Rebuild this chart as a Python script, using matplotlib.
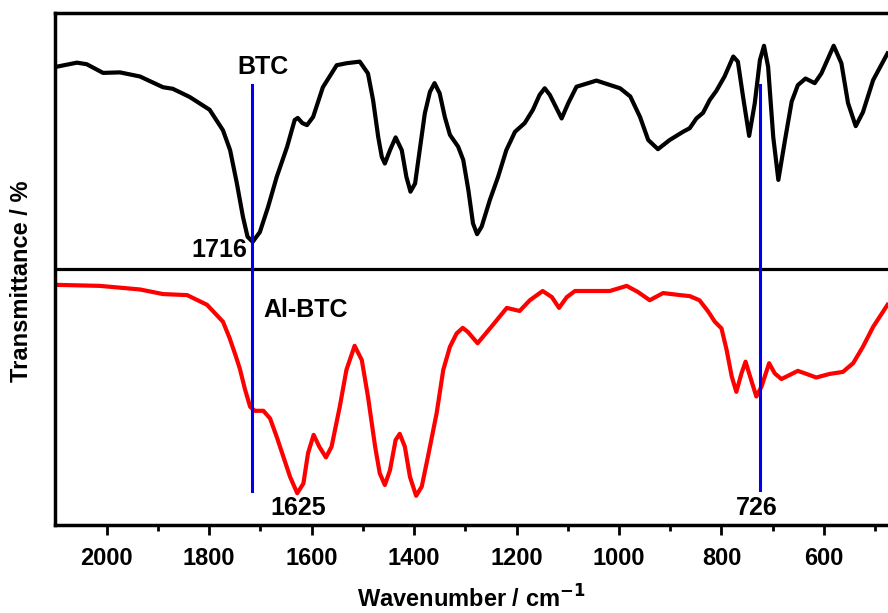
import matplotlib.pyplot as plt

plt.rcParams['font.family'] = ['Liberation Sans', 'DejaVu Sans']
plt.rcParams['font.weight'] = 'bold'

# BTC spectrum (black)
btc_wn = [2098, 2058, 2039, 2007, 1974, 1935, 1890, 1871, 1838, 1799, 1773, 1759,
          1746, 1734, 1725, 1715, 1701, 1685, 1668, 1648, 1633, 1627, 1618, 1609,
          1597, 1578, 1551, 1531, 1506, 1490, 1480, 1470, 1463, 1457, 1447, 1436,
          1424, 1415, 1407, 1398, 1389, 1379, 1369, 1360, 1350, 1340, 1330, 1314,
          1304, 1294, 1285, 1277, 1268, 1252, 1236, 1220, 1203, 1184, 1168, 1155,
          1145, 1135, 1125, 1112, 1099, 1083, 1044, 998, 978, 959, 943, 924, 901,
          875, 862, 849, 836, 823, 810, 794, 777, 768, 758, 746, 735, 725, 717,
          709, 699, 689, 676, 663, 651, 636, 618, 605, 581, 566, 553, 538, 524,
          504, 476]
btc_t = [89.5, 90.3, 90.0, 88.3, 88.4, 87.6, 85.5, 85.2, 83.6, 81.1, 77.1, 73.2,
         66.8, 60.2, 56.3, 55.3, 57.2, 62.1, 68.0, 73.8, 79.1, 79.5, 78.5, 78.1,
         79.7, 85.5, 89.8, 90.2, 90.5, 88.2, 83.0, 75.8, 71.9, 70.6, 73.2, 75.7,
         73.2, 68.0, 65.1, 66.7, 73.2, 80.4, 84.6, 86.3, 84.3, 79.7, 76.2, 73.9,
         71.3, 65.4, 58.9, 56.8, 58.3, 63.5, 68.0, 73.2, 76.8, 78.5, 81.1, 84.0,
         85.3, 84.0, 82.0, 79.4, 82.4, 85.6, 86.8, 85.3, 83.7, 79.7, 75.2, 73.4, 75.2,
         76.8, 77.5, 79.4, 80.5, 83.0, 84.8, 87.6, 91.5, 90.5, 83.7, 76.0, 82.4, 90.8, 93.6,
         89.5, 75.8, 67.4, 75.2, 82.7, 85.9, 87.2, 86.3, 88.2, 93.6, 90.2, 82.4, 77.9, 80.6,
         86.9, 92.1]

# Al-BTC spectrum (red)
al_wn = [2098, 2013, 1935, 1890, 1843, 1804, 1773, 1760, 1748, 1740, 1730, 1720,
         1711, 1694, 1681, 1668, 1655, 1642, 1628, 1616, 1607, 1596, 1585, 1572,
         1561, 1545, 1532, 1516, 1502, 1490, 1476, 1467, 1457, 1447, 1436, 1428,
         1418, 1408, 1396, 1385, 1373, 1356, 1343, 1330, 1317, 1305, 1295, 1276,
         1246, 1219, 1194, 1174, 1149, 1131, 1117, 1102, 1086, 1018, 985, 963, 940,
         914, 881, 862, 843, 826, 813, 800, 790, 780, 771, 761, 753, 742, 732, 722,
         707, 696, 683, 667, 651, 634, 615, 589, 563, 543, 524, 504, 476]
al_t = [46.9, 46.7, 46.0, 45.1, 44.9, 43.0, 39.7, 36.5, 33.0, 30.5, 26.5, 23.1,
        22.3, 22.3, 20.8, 17.2, 13.3, 9.4, 6.2, 8.1, 14.0, 17.6, 15.3, 13.2,
        15.3, 23.1, 30.3, 35.0, 32.2, 25.1, 15.3, 10.1, 7.8, 10.7, 16.6, 17.8,
        15.3, 9.4, 5.7, 7.5, 13.3, 21.8, 30.3, 34.8, 37.4, 38.5, 37.7, 35.5,
        39.1, 42.4, 41.8, 43.9, 45.7, 44.5, 42.4, 44.5, 45.7, 45.7, 46.7, 45.5, 43.9,
        45.3, 44.9, 44.7, 43.9, 41.7, 39.7, 38.4, 34.2, 29.0, 26.0, 29.6, 31.9, 28.3, 25.1, 27.0,
        31.6, 29.6, 28.5, 29.3, 30.1, 29.5, 28.8, 29.5, 29.9, 31.6, 34.8, 38.7, 43.0]

marker_wn = [1716, 725]
marker_top = [86.0, 86.0]
marker_bottom = [6.6, 6.8]

fig = plt.figure(figsize=(8.88, 6.13), dpi=100)
ax = fig.add_axes([0.0624, 0.1436, 0.9376, 0.8352])

ax.plot(btc_wn, btc_t, color='black', lw=3, solid_joinstyle='round')
ax.plot(al_wn, al_t, color='red', lw=3, solid_joinstyle='round')
ax.axhline(50, color='black', lw=2.3)
for w, top, bot in zip(marker_wn, marker_top, marker_bottom):
    ax.plot([w, w], [bot, top], color='#0000ee', lw=2.2)

ax.text(1695, 89.5, 'BTC', fontsize=18, fontweight='bold', ha='center', va='center')
ax.text(1726, 53.7, '1716', fontsize=18, fontweight='bold', ha='right', va='center')
ax.text(1695, 42.0, 'Al-BTC', fontsize=18, fontweight='bold', ha='left', va='center')
ax.text(1627, 3.3, '1625', fontsize=18, fontweight='bold', ha='center', va='center')
ax.text(731, 3.3, '726', fontsize=18, fontweight='bold', ha='center', va='center')

ax.set_xlim(2100, 475)
ax.set_ylim(0, 100)
ax.set_xticks([2000, 1800, 1600, 1400, 1200, 1000, 800, 600])
ax.set_xticks([1900, 1700, 1500, 1300, 1100, 900, 700, 500], minor=True)
ax.set_yticks([])
ax.tick_params(axis='x', which='major', length=7, width=2, labelsize=17, direction='out', pad=9)
ax.tick_params(axis='x', which='minor', length=4, width=2, direction='out')
for lbl in ax.get_xticklabels():
    lbl.set_fontweight('bold')

for side in ['left', 'top', 'bottom']:
    ax.spines[side].set_linewidth(2.5)
ax.spines['right'].set_visible(False)

ax.set_xlabel('Wavenumber / cm$^{\\mathbf{-1}}$', fontsize=17, fontweight='bold', labelpad=11)
ax.set_ylabel('Transmittance / %', fontsize=17, fontweight='bold')
ax.yaxis.set_label_coords(-0.027, 0.477)

fig.savefig('out.png', dpi=100)
